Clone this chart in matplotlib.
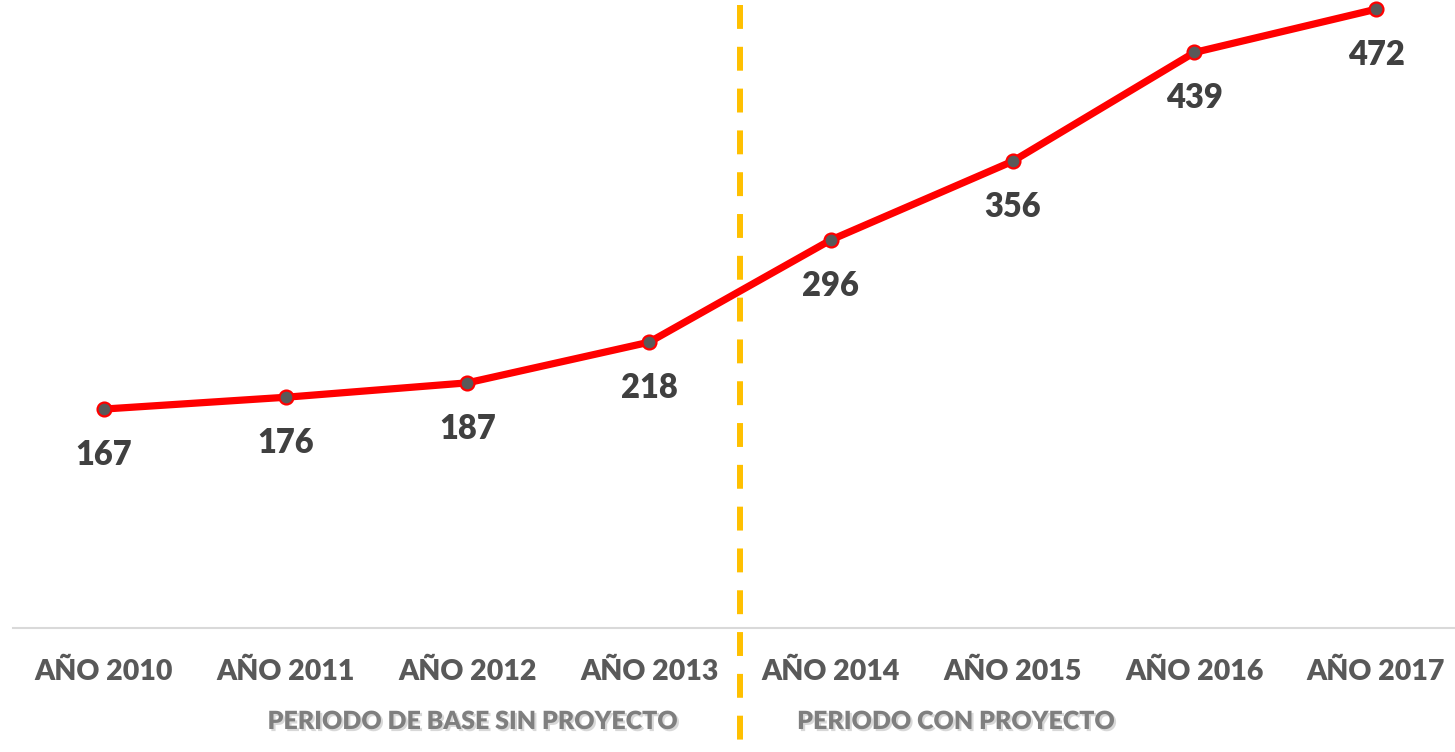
import matplotlib.pyplot as plt
import matplotlib.patheffects as pe

YEARS = ["AÑO 2010", "AÑO 2011", "AÑO 2012", "AÑO 2013",
         "AÑO 2014", "AÑO 2015", "AÑO 2016", "AÑO 2017"]
VALUES = [167, 176, 187, 218, 296, 356, 439, 472]
PERIODS = ["PERIODO DE BASE SIN PROYECTO", "PERIODO CON PROYECTO"]
PERIOD_X = [2.03, 4.69]
SPLIT_X = 3.5

W, H = 1455, 752
FONT = ["Lato", "DejaVu Sans"]

fig = plt.figure(figsize=(W / 100, H / 100), dpi=100)
# axes: x from 13px to 1467px, y baseline at 628px, top at 0px
ax = fig.add_axes([13 / W, (H - 628) / H, 1454 / W, 628 / H])
ax.set_xlim(-0.5, 7.5)
ax.set_ylim(0, 628 / 1.311)
ax.axis("off")

x = list(range(len(VALUES)))
ax.plot(x, VALUES, color="#FF0000", lw=5.2, zorder=3, solid_capstyle="round")
ax.plot(x, VALUES, ls="none", marker="o", ms=10, mfc="#595959", mec="#FF0000",
        mew=1.6, zorder=4, clip_on=False)

for xi, v in zip(x, VALUES):
    ax.annotate(str(v), (xi, v), xytext=(0, -33), textcoords="offset points",
                ha="center", va="center", fontsize=23.5, fontweight="heavy",
                color="#404040", family=FONT)

# baseline
fig.add_artist(plt.Line2D([13 / W, 1], [(H - 628) / H] * 2, color="#D9D9D9", lw=1.5))

# dashed split line across whole figure
xs = ax.transData.transform((SPLIT_X, 0))[0] / W
fig.add_artist(plt.Line2D([xs, xs], [1 - 5 / H, 0], color="#FFC000", lw=4.3,
                          linestyle=(0, (4, 3)), zorder=5))

for xi, lab in zip(x, YEARS):
    xf = ax.transData.transform((xi, 0))[0] / W
    fig.text(xf, 1 - 672 / H, lab, ha="center", va="center", fontsize=20.5,
             fontweight="heavy", color="#595959", family=FONT)

shadow = [pe.SimplePatchShadow(offset=(1.5, -1.5), shadow_rgbFace="#BFBFBF", alpha=0.6),
          pe.Normal()]
for px, lab in zip(PERIOD_X, PERIODS):
    xf = ax.transData.transform((px, 0))[0] / W
    fig.text(xf, 1 - 722 / H, lab, ha="center", va="center", fontsize=18,
             fontweight="heavy", color="#7F7F7F", family=FONT, path_effects=shadow)

fig.savefig("out.png", dpi=100)
